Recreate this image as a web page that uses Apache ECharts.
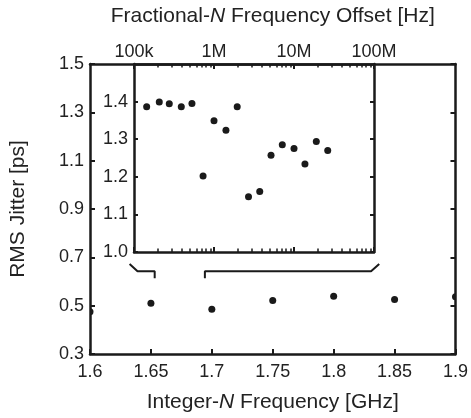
<!DOCTYPE html>
<html><head><meta charset="utf-8">
<script src="https://cdn.jsdelivr.net/npm/echarts@6/dist/echarts.min.js"></script>
<style>html,body{margin:0;padding:0;background:#fff}#c{width:471px;height:418px}</style>
</head><body><div id="c"></div>
<script>
// ---- Main plot: Integer-N ----
const intFreq = [1.6, 1.65, 1.7, 1.75, 1.8, 1.85, 1.9];
const intJitter = [0.475, 0.510, 0.485, 0.521, 0.539, 0.526, 0.537];
// ---- Inset: Fractional-N ----
const fracOffset = [1.44e5, 2.07e5, 2.76e5, 3.9e5, 5.3e5, 7.3e5, 1.0e6, 1.41e6, 1.95e6, 2.7e6, 3.73e6, 5.16e6, 7.14e6, 1.0e7, 1.37e7, 1.9e7, 2.64e7];
const fracJitter = [1.386, 1.399, 1.394, 1.386, 1.395, 1.202, 1.349, 1.324, 1.386, 1.147, 1.161, 1.257, 1.285, 1.275, 1.234, 1.294, 1.270];
// ---- Tick values / labels ----
const mainXTicks = [1.6, 1.65, 1.7, 1.75, 1.8, 1.85, 1.9];
const mainXLabels = ['1.6', '1.65', '1.7', '1.75', '1.8', '1.85', '1.9'];
const mainYTicks = [0.3, 0.5, 0.7, 0.9, 1.1, 1.3, 1.5];
const mainYLabels = ['0.3', '0.5', '0.7', '0.9', '1.1', '1.3', '1.5'];
const insetYTicks = [1.0, 1.1, 1.2, 1.3, 1.4];
const insetYLabels = ['1.0', '1.1', '1.2', '1.3', '1.4'];
const insetXMajor = [1e5, 1e6, 1e7, 1e8];
const insetXLabels = ['100k', '1M', '10M', '100M'];
const insetXMinor = [2e5, 3e5, 4e5, 5e5, 6e5, 7e5, 8e5, 9e5,
  2e6, 3e6, 4e6, 5e6, 6e6, 7e6, 8e6, 9e6,
  2e7, 3e7, 4e7, 5e7, 6e7, 7e7, 8e7, 9e7];
// ---- Zoom bracket (in main-axis data space) ----
const bracketLeft = [[1.6325, 0.672], [1.6390, 0.642], [1.6531, 0.642], [1.6531, 0.613]];
const bracketRight = [[1.6943, 0.613], [1.6943, 0.642], [1.8307, 0.642], [1.8374, 0.672]];

const FONT = "'Liberation Sans', Arial, Helvetica, sans-serif";
const INK = '#1a1a1a';
const TXT = '#222';
function lookup(ticks, labels) {
  return function (v) {
    for (let i = 0; i < ticks.length; i++) {
      if (Math.abs(ticks[i] - v) <= Math.abs(ticks[i]) * 1e-6 + 1e-9) return labels[i];
    }
    return '';
  };
}
const line = (w) => ({ show: true, onZero: false, lineStyle: { color: INK, width: w } });
const labelStyle = { color: TXT, fontFamily: FONT, fontSize: 18 };
const nameStyle = { color: TXT, fontFamily: FONT, fontSize: 21, rich: { i: { fontStyle: 'italic', fontFamily: FONT, fontSize: 21, color: TXT } } };

const chart = echarts.init(document.getElementById('c'), null, { renderer: 'canvas' });
chart.setOption({
  animation: false,
  backgroundColor: '#fff',
  grid: [
    { left: 89, right: 13, top: 64, bottom: 64, show: false },
    { left: 134, right: 97, top: 64, bottom: 166, show: false }
  ],
  xAxis: [
    { gridIndex: 0, type: 'value', position: 'bottom', min: 1.6, max: 1.9,
      axisLine: line(2.5),
      axisTick: { inside: true, length: 5, customValues: mainXTicks, lineStyle: { color: INK, width: 2 } },
      axisLabel: Object.assign({ customValues: mainXTicks, margin: 9, formatter: lookup(mainXTicks, mainXLabels) }, labelStyle),
      splitLine: { show: false },
      name: 'Integer-{i|N} Frequency [GHz]', nameLocation: 'middle', nameGap: 38, nameTextStyle: nameStyle },
    { gridIndex: 0, type: 'value', position: 'top', min: 1.6, max: 1.9,
      axisLine: line(2.5), axisTick: { show: false }, axisLabel: { show: false }, splitLine: { show: false },
      name: 'Fractional-{i|N} Frequency Offset [Hz]', nameLocation: 'middle', nameGap: 37, nameTextStyle: nameStyle },
    { gridIndex: 1, type: 'log', logBase: 10, position: 'bottom', min: 1e5, max: 1e8,
      axisLine: line(2.5),
      axisTick: { inside: true, length: 5, customValues: insetXMajor, lineStyle: { color: INK, width: 2 } },
      axisLabel: { show: false }, splitLine: { show: false } },
    { gridIndex: 1, type: 'log', logBase: 10, position: 'bottom', min: 1e5, max: 1e8,
      axisLine: { show: false, onZero: false },
      axisTick: { inside: true, length: 3.5, customValues: insetXMinor, lineStyle: { color: INK, width: 1.5 } },
      axisLabel: { show: false }, splitLine: { show: false } },
    { gridIndex: 1, type: 'log', logBase: 10, position: 'top', min: 1e5, max: 1e8,
      axisLine: line(2.5),
      axisTick: { inside: true, length: 5, customValues: insetXMajor, lineStyle: { color: INK, width: 2 } },
      axisLabel: Object.assign({ customValues: insetXMajor, margin: 3, formatter: lookup(insetXMajor, insetXLabels) }, labelStyle),
      splitLine: { show: false } },
    { gridIndex: 1, type: 'log', logBase: 10, position: 'top', min: 1e5, max: 1e8,
      axisLine: { show: false, onZero: false },
      axisTick: { inside: true, length: 3.5, customValues: insetXMinor, lineStyle: { color: INK, width: 1.5 } },
      axisLabel: { show: false }, splitLine: { show: false } }
  ],
  yAxis: [
    { gridIndex: 0, type: 'value', position: 'left', min: 0.3, max: 1.5,
      axisLine: line(2.5),
      axisTick: { inside: true, length: 5, customValues: mainYTicks, lineStyle: { color: INK, width: 2 } },
      axisLabel: Object.assign({ customValues: mainYTicks, margin: 6, formatter: lookup(mainYTicks, mainYLabels) }, labelStyle),
      splitLine: { show: false },
      name: 'RMS Jitter [ps]', nameLocation: 'middle', nameGap: 61, nameRotate: 90, nameTextStyle: nameStyle },
    { gridIndex: 0, type: 'value', position: 'right', min: 0.3, max: 1.5,
      axisLine: line(2.5),
      axisTick: { inside: true, length: 5, customValues: mainYTicks, lineStyle: { color: INK, width: 2 } },
      axisLabel: { show: false }, splitLine: { show: false } },
    { gridIndex: 1, type: 'value', position: 'left', min: 1.0, max: 1.5,
      axisLine: line(2.5),
      axisTick: { inside: true, length: 4, customValues: insetYTicks, lineStyle: { color: INK, width: 2 } },
      axisLabel: Object.assign({ customValues: insetYTicks, margin: 6, formatter: lookup(insetYTicks, insetYLabels) }, labelStyle),
      splitLine: { show: false } },
    { gridIndex: 1, type: 'value', position: 'right', min: 1.0, max: 1.5,
      axisLine: line(2.5),
      axisTick: { inside: true, length: 4, customValues: insetYTicks, lineStyle: { color: INK, width: 2 } },
      axisLabel: { show: false }, splitLine: { show: false } }
  ],
  series: [
    { type: 'custom', xAxisIndex: 0, yAxisIndex: 0, clip: true, z: 3,
      data: intFreq.map((f, i) => [f, intJitter[i]]),
      renderItem: function (params, api) {
        const p = api.coord([api.value(0), api.value(1)]);
        return { type: 'circle', shape: { cx: p[0], cy: p[1], r: 3.5 }, style: { fill: INK } };
      } },
    { type: 'scatter', xAxisIndex: 2, yAxisIndex: 2, symbol: 'circle', symbolSize: 7,
      itemStyle: { color: INK, opacity: 1 }, z: 3,
      data: fracOffset.map((f, i) => [f, fracJitter[i]]) },
    { type: 'line', xAxisIndex: 0, yAxisIndex: 0, data: bracketLeft, showSymbol: false, symbol: 'none',
      lineStyle: { color: INK, width: 2 }, z: 3 },
    { type: 'line', xAxisIndex: 0, yAxisIndex: 0, data: bracketRight, showSymbol: false, symbol: 'none',
      lineStyle: { color: INK, width: 2 }, z: 3 }
  ]
});
</script>
</body></html>
